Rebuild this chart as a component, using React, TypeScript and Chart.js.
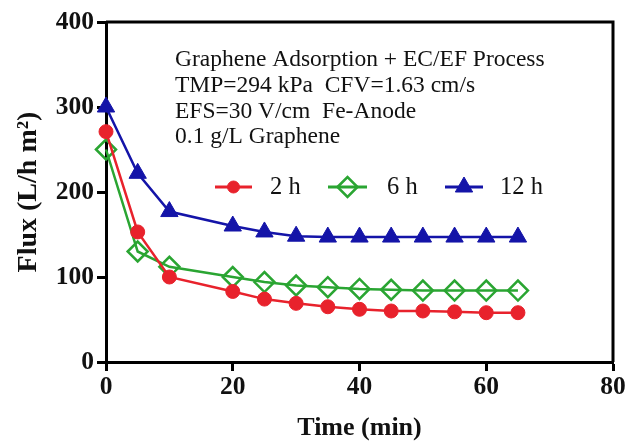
import React, { useEffect, useRef } from "react";
import { Chart, registerables } from "chart.js";
import { drawPoint } from "chart.js/helpers";

Chart.register(...registerables);

const timeMin = [0, 5, 10, 20, 25, 30, 35, 40, 45, 50, 55, 60, 65];
const flux2h = [271, 153, 100, 83, 74, 69, 65, 62, 60, 60, 59, 58, 58];
const flux6h = [250, 130, 112, 100, 94, 90, 88, 86, 85, 84, 84, 84, 84];
const flux12h = [300, 222, 177, 160, 153, 148, 147, 147, 147, 147, 147, 147, 147];
const seriesLabels = ["2 h", "6 h", "12 h"];
const annotationLines = [
  "Graphene Adsorption + EC/EF Process",
  "TMP=294 kPa  CFV=1.63 cm/s",
  "EFS=30 V/cm  Fe-Anode",
  "0.1 g/L Graphene",
];
const xTitle = "Time (min)";
const yTitle = "Flux (L/h m\u00B2)";

const RED = "#e8222c";
const GREEN = "#2aa532";
const BLUE = "#1414a8";
const SERIF = "'Liberation Serif', 'Times New Roman', serif";

const toPts = (ys: number[]) => ys.map((y, i) => ({ x: timeMin[i], y }));

const framePlugin = {
  id: "frame",
  afterDraw(chart: any) {
    const { ctx, chartArea } = chart;
    ctx.save();
    ctx.strokeStyle = "#000";
    ctx.lineWidth = 3;
    ctx.beginPath();
    ctx.moveTo(chartArea.left, chartArea.top);
    ctx.lineTo(chartArea.right, chartArea.top);
    ctx.lineTo(chartArea.right, chartArea.bottom);
    ctx.stroke();
    ctx.restore();
  },
};

const annotationPlugin = {
  id: "annot",
  afterDatasetsDraw(chart: any) {
    const { ctx } = chart;
    ctx.save();
    ctx.fillStyle = "#111";
    ctx.font = `23.5px ${SERIF}`;
    ctx.textBaseline = "alphabetic";
    ctx.textAlign = "left";
    const baselines = [66, 92, 118, 143];
    annotationLines.forEach((t, i) => ctx.fillText(t, 175, baselines[i]));

    // legend
    const legendY = 187;
    const items = [
      { x1: 215, x2: 252, tx: 270, r: 6 },
      { x1: 328, x2: 367, tx: 387, r: 10 },
      { x1: 445, x2: 483, tx: 500, r: 10 },
    ];
    chart.data.datasets.forEach((ds: any, i: number) => {
      const it = items[i];
      ctx.strokeStyle = ds.borderColor;
      ctx.lineWidth = 3;
      ctx.beginPath();
      ctx.moveTo(it.x1, legendY);
      ctx.lineTo(it.x2, legendY);
      ctx.stroke();
      ctx.fillStyle = ds.pointBackgroundColor;
      ctx.strokeStyle = ds.pointBorderColor;
      ctx.lineWidth = ds.pointBorderWidth;
      drawPoint(
        ctx,
        { pointStyle: ds.pointStyle, rotation: 0, borderWidth: ds.pointBorderWidth, radius: it.r },
        (it.x1 + it.x2) / 2,
        legendY
      );
      ctx.fillStyle = "#111";
      ctx.font = `24.5px ${SERIF}`;
      ctx.textBaseline = "middle";
      ctx.fillText(ds.label, it.tx, legendY + 1);
    });
    ctx.restore();
  },
};

export default function App() {
  const ref = useRef<HTMLCanvasElement | null>(null);
  useEffect(() => {
    if (!ref.current) return;
    const tickFont = { family: SERIF, size: 25.5, weight: "bold" as const };
    const chart = new Chart(ref.current, {
      type: "line",
      data: {
        datasets: [
          {
            label: seriesLabels[0],
            data: toPts(flux2h),
            borderColor: RED,
            borderWidth: 2.5,
            pointStyle: "circle",
            pointRadius: 7,
            pointBackgroundColor: RED,
            pointBorderColor: RED,
            pointBorderWidth: 1,
            fill: false,
            tension: 0,
            clip: false,
          },
          {
            label: seriesLabels[1],
            data: toPts(flux6h),
            borderColor: GREEN,
            borderWidth: 2.5,
            pointStyle: "rectRot",
            pointRadius: 10,
            pointBackgroundColor: "rgba(0,0,0,0)",
            pointBorderColor: GREEN,
            pointBorderWidth: 2.5,
            fill: false,
            tension: 0,
            clip: false,
          },
          {
            label: seriesLabels[2],
            data: toPts(flux12h),
            borderColor: BLUE,
            borderWidth: 2.5,
            pointStyle: "triangle",
            pointRadius: 10,
            pointBackgroundColor: BLUE,
            pointBorderColor: BLUE,
            pointBorderWidth: 1,
            fill: false,
            tension: 0,
            clip: false,
          },
        ],
      },
      options: {
        animation: false,
        responsive: false,
        devicePixelRatio: 1,
        layout: { padding: { left: 0, top: 22, right: 15, bottom: 0 } },
        plugins: { legend: { display: false }, tooltip: { enabled: false } },
        scales: {
          x: {
            type: "linear",
            min: 0,
            max: 80,
            ticks: { stepSize: 20, color: "#111", font: tickFont, padding: 1 },
            grid: { drawOnChartArea: false, drawTicks: true, tickLength: 9, tickWidth: 3, tickColor: "#000" },
            border: { display: true, width: 3, color: "#000" },
            title: {
              display: true,
              text: xTitle,
              color: "#111",
              font: { family: SERIF, size: 26, weight: "bold", lineHeight: 1 },
              padding: { top: 0, bottom: 0 },
            },
            afterFit: (s: any) => {
              s.height = 79;
            },
          },
          y: {
            min: 0,
            max: 400,
            ticks: { stepSize: 100, color: "#111", font: tickFont, padding: 3 },
            grid: { drawOnChartArea: false, drawTicks: true, tickLength: 9, tickWidth: 3, tickColor: "#000" },
            border: { display: true, width: 3, color: "#000" },
            title: {
              display: true,
              text: yTitle,
              color: "#111",
              font: { family: SERIF, size: 28, weight: "bold", lineHeight: 1 },
              padding: { top: 15, bottom: 0 },
            },
            afterFit: (s: any) => {
              s.width = 106;
            },
          },
        },
      },
      plugins: [framePlugin, annotationPlugin],
    });
    return () => chart.destroy();
  }, []);
  return (
    <div style={{ position: "fixed", left: 0, top: 0, width: 628, height: 441, background: "#fff" }}>
      <canvas ref={ref} width={628} height={441} style={{ width: 628, height: 441, display: "block" }} />
    </div>
  );
}
